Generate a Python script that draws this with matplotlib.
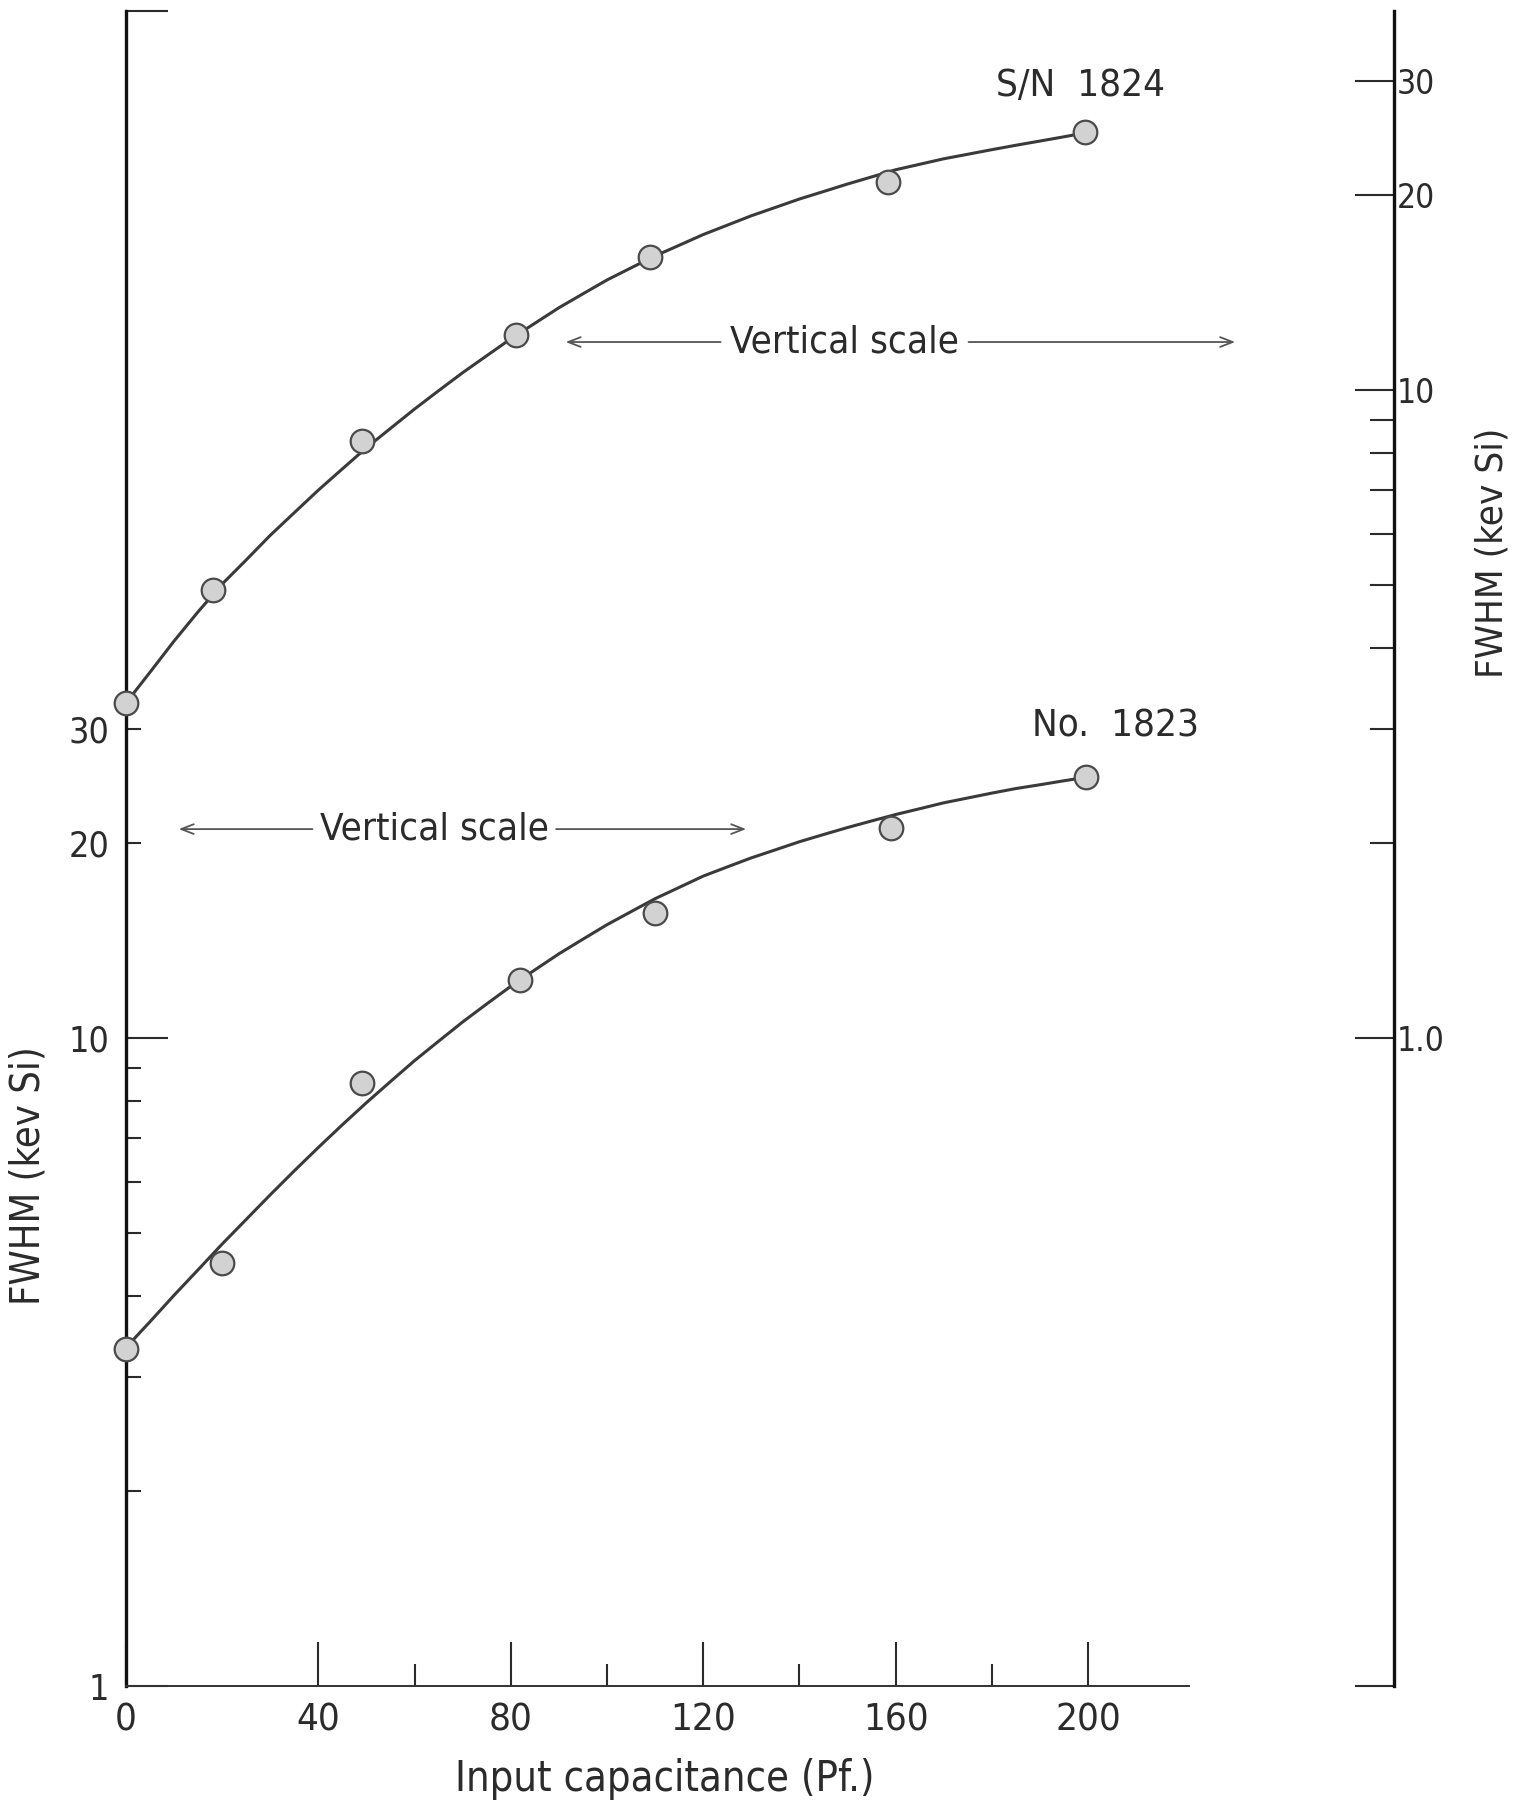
import matplotlib
matplotlib.use('Agg')
import matplotlib.pyplot as plt
from matplotlib import font_manager as fm
from matplotlib.ticker import FixedLocator, FixedFormatter

# pick a narrow / condensed face if one is installed
_files = [(f.name, f.stretch, f.fname) for f in fm.fontManager.ttflist]
FAMILY = None
STRETCH = 'normal'
SCALE = 1.0
for name, stretch, fname in _files:
    if name == 'Liberation Sans Narrow':
        FAMILY = name
        break
if FAMILY is None:
    for name, stretch, fname in _files:
        if name == 'DejaVu Sans' and 'Condensed' in fname and 'Bold' not in fname and 'Oblique' not in fname:
            FAMILY = 'DejaVu Sans'
            STRETCH = 'condensed'
            SCALE = 0.92
            break
if FAMILY is None:
    FAMILY = 'Liberation Sans'
    SCALE = 0.86

plt.rcParams['font.family'] = [FAMILY, 'DejaVu Sans']
plt.rcParams['font.stretch'] = STRETCH


def fs(v):
    return v * SCALE


# ---------------- data ----------------
# No. 1823 : left vertical scale
cap_1823 = [0, 20, 49, 82, 110, 159, 199.5]
fwhm_1823 = [3.31, 4.49, 8.53, 12.3, 15.6, 21.1, 25.3]
# fitted curve of No. 1823
curve_cap_1823 = [0, 5, 10, 15, 20, 25, 30, 35, 40, 45, 50, 55, 60, 65, 70, 75, 80, 85, 90, 95, 100,
                  105, 110, 115, 120, 125, 130, 135, 140, 145, 150, 155, 160, 165, 170, 175, 180,
                  185, 190, 195, 200]
curve_fwhm_1823 = [3.33, 3.65, 4.01, 4.39, 4.81, 5.25, 5.73, 6.24, 6.78, 7.35, 7.95, 8.57, 9.23, 9.89,
                   10.59, 11.29, 12.02, 12.74, 13.49, 14.21, 14.96, 15.67, 16.41, 17.08, 17.78, 18.37,
                   18.97, 19.52, 20.09, 20.61, 21.13, 21.63, 22.13, 22.59, 23.07, 23.47, 23.88, 24.27,
                   24.60, 24.95, 25.29]

# S/N 1824 : right vertical scale
cap_1824 = [0, 18, 49, 81, 109, 158.5, 199.4]
fwhm_1824 = [3.29, 4.91, 8.35, 12.15, 16.06, 20.96, 25.04]
curve_cap_1824 = [0, 5, 10, 15, 20, 25, 30, 35, 40, 45, 50, 55, 60, 65, 70, 75, 80, 85, 90, 95, 100,
                  105, 110, 115, 120, 125, 130, 135, 140, 145, 150, 155, 160, 165, 170, 175, 180,
                  185, 190, 195, 200]
curve_fwhm_1824 = [3.29, 3.67, 4.10, 4.55, 5.02, 5.47, 5.97, 6.47, 7.01, 7.56, 8.15, 8.73, 9.35, 9.98,
                   10.64, 11.30, 12.00, 12.68, 13.40, 14.08, 14.79, 15.44, 16.11, 16.73, 17.38, 17.97,
                   18.58, 19.14, 19.72, 20.25, 20.80, 21.33, 21.88, 22.31, 22.75, 23.12, 23.50, 23.87,
                   24.23, 24.60, 25.00]

x_major = [0, 40, 80, 120, 160, 200]
x_major_labels = ['0', '40', '80', '120', '160', '200']
x_minor = [60, 100, 140, 180]

left_major = [1, 10, 384]
left_major_labels = ['1', '10', '']
left_minor = [2, 3, 4, 5, 6, 7, 8, 9, 20, 30]
left_minor_labels = ['', '', '', '', '', '', '', '', '20', '30']

right_major = [0.1, 1, 10, 20, 30]
right_major_labels = ['', '1.0', '10', '20', '30']
right_minor = [2, 3, 4, 5, 6, 7, 8, 9]

INK = '#2b2b2b'

fig = plt.figure(figsize=(15.28, 18.02), dpi=100)
ax = fig.add_axes([0.08246, 0.06437, 0.6957, 0.9295])
ax.set_yscale('log')
ax.set_xlim(0, 221)
ax.set_ylim(1, 384.6)

for s in ('top', 'right'):
    ax.spines[s].set_visible(False)
ax.spines['left'].set_linewidth(2.4)
ax.spines['left'].set_color('#111111')
ax.spines['bottom'].set_linewidth(1.4)
ax.spines['bottom'].set_color('#333333')

ax.xaxis.set_major_locator(FixedLocator(x_major))
ax.xaxis.set_major_formatter(FixedFormatter(x_major_labels))
ax.xaxis.set_minor_locator(FixedLocator(x_minor))
ax.tick_params(axis='x', which='major', direction='in', length=32, width=1.5,
               pad=12, labelsize=fs(30), colors=INK)
ax.tick_params(axis='x', which='minor', direction='in', length=16, width=1.5, colors=INK)

ax.yaxis.set_major_locator(FixedLocator(left_major))
ax.yaxis.set_major_formatter(FixedFormatter(left_major_labels))
ax.yaxis.set_minor_locator(FixedLocator(left_minor))
ax.yaxis.set_minor_formatter(FixedFormatter(left_minor_labels))
ax.tick_params(axis='y', which='major', direction='in', length=30, width=1.5,
               pad=12, labelsize=fs(28), colors=INK)
ax.tick_params(axis='y', which='minor', direction='in', length=11, width=1.5,
               pad=12, labelsize=fs(28), colors=INK)

# right vertical scale
ax2 = ax.twinx()
ax2.set_yscale('log')
ax2.set_ylim(0.1, 38.46)
for s in ('top', 'left', 'bottom'):
    ax2.spines[s].set_visible(False)
ax2.spines['right'].set_position(('axes', 1.193))
ax2.spines['right'].set_linewidth(2.4)
ax2.spines['right'].set_color('#111111')
ax2.yaxis.set_major_locator(FixedLocator(right_major))
ax2.yaxis.set_major_formatter(FixedFormatter(right_major_labels))
ax2.yaxis.set_minor_locator(FixedLocator(right_minor))
ax2.yaxis.set_minor_formatter(FixedFormatter([''] * len(right_minor)))
ax2.tick_params(axis='y', which='major', direction='in', length=28, width=1.5,
                pad=2, labelsize=fs(26), colors=INK)
ax2.tick_params(axis='y', which='minor', direction='in', length=17, width=1.5, colors=INK)

# curves and points
line_kw = dict(color='#3a3a3a', lw=2.2, solid_capstyle='round', solid_joinstyle='round', clip_on=False)
mk_kw = dict(linestyle='none', marker='o', markersize=17, markerfacecolor='#d2d2d2',
             markeredgecolor='#4a4a4a', markeredgewidth=1.6, clip_on=False, zorder=5)

ax.plot(curve_cap_1823, curve_fwhm_1823, **line_kw)
ax.plot(cap_1823, fwhm_1823, **mk_kw)
ax2.plot(curve_cap_1824, curve_fwhm_1824, **line_kw)
ax2.plot(cap_1824, fwhm_1824, **mk_kw)

# labels of the curves
ax.text(0.8975, 0.955, 'S/N  1824', transform=ax.transAxes, ha='center', va='center',
        fontsize=fs(30), color=INK)
ax.text(0.931, 0.573, 'No.  1823', transform=ax.transAxes, ha='center', va='center',
        fontsize=fs(30), color=INK)

# "Vertical scale" arrows
arrow_kw = dict(arrowstyle='->,head_length=0.9,head_width=0.35', lw=1.3, color='#555555')
ax.text(0.6755, 0.8024, 'Vertical scale', transform=ax.transAxes, ha='center', va='center',
        fontsize=fs(30), color=INK)
ax.annotate('', xy=(0.411, 0.8024), xytext=(0.562, 0.8024), xycoords='axes fraction',
            arrowprops=arrow_kw, annotation_clip=False)
ax.annotate('', xy=(1.046, 0.8024), xytext=(0.790, 0.8024), xycoords='axes fraction',
            arrowprops=arrow_kw, annotation_clip=False)

ax.text(0.290, 0.5116, 'Vertical scale', transform=ax.transAxes, ha='center', va='center',
        fontsize=fs(30), color=INK)
ax.annotate('', xy=(0.047, 0.5116), xytext=(0.178, 0.5116), xycoords='axes fraction',
            arrowprops=arrow_kw, annotation_clip=False)
ax.annotate('', xy=(0.586, 0.5116), xytext=(0.402, 0.5116), xycoords='axes fraction',
            arrowprops=arrow_kw, annotation_clip=False)

# axis titles
fig.text(29 / 1528, 1 - 1176 / 1802, 'FWHM (kev Si)', rotation=90, ha='center', va='center',
         fontsize=fs(31), color=INK)
fig.text(1493 / 1528, 1 - 553 / 1802, 'FWHM (kev Si)', rotation=90, ha='center', va='center',
         fontsize=fs(30), color=INK)
fig.text(665 / 1528, 1 - 1779 / 1802, 'Input capacitance (Pf.)', ha='center', va='center',
         fontsize=fs(32.5), color=INK)

fig.savefig('out.png', dpi=100, facecolor='white')
